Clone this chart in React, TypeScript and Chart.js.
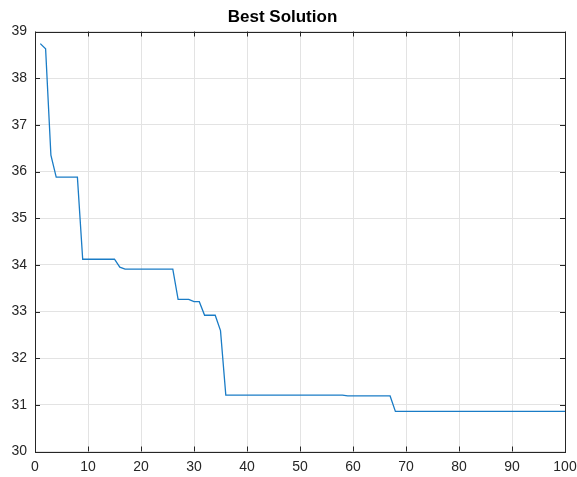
import React, { useEffect, useRef } from "react";
import { Chart, registerables } from "chart.js";

Chart.register(...registerables);

const iterations: number[] = [
  1, 2, 3, 4, 5, 6, 7, 8, 9, 10, 11, 12, 13, 14, 15, 16, 17, 18, 19, 20,
  21, 22, 23, 24, 25, 26, 27, 28, 29, 30, 31, 32, 33, 34, 35, 36, 37, 38, 39, 40,
  41, 42, 43, 44, 45, 46, 47, 48, 49, 50, 51, 52, 53, 54, 55, 56, 57, 58, 59, 60,
  61, 62, 63, 64, 65, 66, 67, 68, 69, 70, 71, 72, 73, 74, 75, 76, 77, 78, 79, 80,
  81, 82, 83, 84, 85, 86, 87, 88, 89, 90, 91, 92, 93, 94, 95, 96, 97, 98, 99, 100,
];

const bestValues: number[] = [
  38.74, 38.63, 36.35, 35.88, 35.88, 35.88, 35.88, 35.88, 34.12, 34.12,
  34.12, 34.12, 34.12, 34.12, 34.12, 33.95, 33.91, 33.91, 33.91, 33.91,
  33.91, 33.91, 33.91, 33.91, 33.91, 33.91, 33.26, 33.26, 33.26, 33.21,
  33.21, 32.92, 32.92, 32.92, 32.59, 31.21, 31.21, 31.21, 31.21, 31.21,
  31.21, 31.21, 31.21, 31.21, 31.21, 31.21, 31.21, 31.21, 31.21, 31.21,
  31.21, 31.21, 31.21, 31.21, 31.21, 31.21, 31.21, 31.21, 31.19, 31.19,
  31.19, 31.19, 31.19, 31.19, 31.19, 31.19, 31.19, 30.86, 30.86, 30.86,
  30.86, 30.86, 30.86, 30.86, 30.86, 30.86, 30.86, 30.86, 30.86, 30.86,
  30.86, 30.86, 30.86, 30.86, 30.86, 30.86, 30.86, 30.86, 30.86, 30.86,
  30.86, 30.86, 30.86, 30.86, 30.86, 30.86, 30.86, 30.86, 30.86, 30.86,
];

const xTicks: number[] = [0, 10, 20, 30, 40, 50, 60, 70, 80, 90, 100];
const yTicks: number[] = [30, 31, 32, 33, 34, 35, 36, 37, 38, 39];

const titleText = "Best Solution";

const FONT = "Liberation Sans, Arial, Helvetica, sans-serif";

const boxPlugin = {
  id: "matlabBox",
  afterDatasetsDraw(chart: any) {
    const { ctx, chartArea, scales } = chart;
    const { left, right, top, bottom } = chartArea;
    ctx.save();
    ctx.strokeStyle = "#262626";
    ctx.lineWidth = 1;
    ctx.beginPath();
    const tl = 5;
    for (const v of xTicks) {
      const px = Math.round(scales.x.getPixelForValue(v)) + 0.5;
      ctx.moveTo(px, bottom);
      ctx.lineTo(px, bottom - tl);
      ctx.moveTo(px, top);
      ctx.lineTo(px, top + tl);
    }
    for (const v of yTicks) {
      const py = Math.round(scales.y.getPixelForValue(v)) + 0.5;
      ctx.moveTo(left, py);
      ctx.lineTo(left + tl, py);
      ctx.moveTo(right, py);
      ctx.lineTo(right - tl, py);
    }
    ctx.stroke();
    ctx.strokeRect(
      Math.round(left) + 0.5,
      Math.round(top) + 0.5,
      Math.round(right - left),
      Math.round(bottom - top)
    );
    ctx.restore();
  },
};

export default function App() {
  const canvasRef = useRef<HTMLCanvasElement | null>(null);

  useEffect(() => {
    document.body.style.margin = "0";
    const canvas = canvasRef.current;
    if (!canvas) return;
    const chart = new Chart(canvas, {
      type: "line",
      data: {
        datasets: [
          {
            data: iterations.map((x, i) => ({ x, y: bestValues[i] })),
            borderColor: "#1a7cc6",
            borderWidth: 1.3,
            pointRadius: 0,
            fill: false,
            tension: 0,
          },
        ],
      },
      options: {
        responsive: false,
        animation: false,
        devicePixelRatio: 1,
        layout: { padding: { left: 0, right: 12, top: 0, bottom: 0 } },
        plugins: {
          legend: { display: false },
          tooltip: { enabled: false },
          title: {
            display: true,
            text: titleText,
            color: "#000000",
            font: { family: FONT, size: 17, weight: "bold" },
            padding: { top: 7, bottom: 4.1 },
          },
        },
        scales: {
          x: {
            type: "linear",
            min: 0,
            max: 100,
            afterBuildTicks(scale: any) {
              scale.ticks = xTicks.map((v) => ({ value: v }));
            },
            afterFit(scale: any) {
              scale.height = 25.5;
              scale.paddingLeft = 0;
              scale.paddingRight = 0;
            },
            grid: { color: "#e3e3e3", drawTicks: false },
            border: { display: false },
            ticks: {
              color: "#262626",
              padding: 7,
              maxRotation: 0,
              autoSkip: false,
              font: { family: FONT, size: 14 },
            },
          },
          y: {
            type: "linear",
            min: 30,
            max: 39,
            afterBuildTicks(scale: any) {
              scale.ticks = yTicks.map((v) => ({ value: v }));
            },
            afterFit(scale: any) {
              scale.width = 35;
              scale.paddingTop = 0;
              scale.paddingBottom = 0;
            },
            grid: { color: "#e3e3e3", drawTicks: false },
            border: { display: false },
            ticks: {
              color: "#262626",
              padding: 8,
              autoSkip: false,
              font: { family: FONT, size: 14 },
            },
          },
        },
      },
      plugins: [boxPlugin],
    });
    return () => chart.destroy();
  }, []);

  return (
    <div style={{ width: 577, height: 477, background: "#ffffff" }}>
      <canvas ref={canvasRef} width={577} height={477} style={{ display: "block" }} />
    </div>
  );
}
